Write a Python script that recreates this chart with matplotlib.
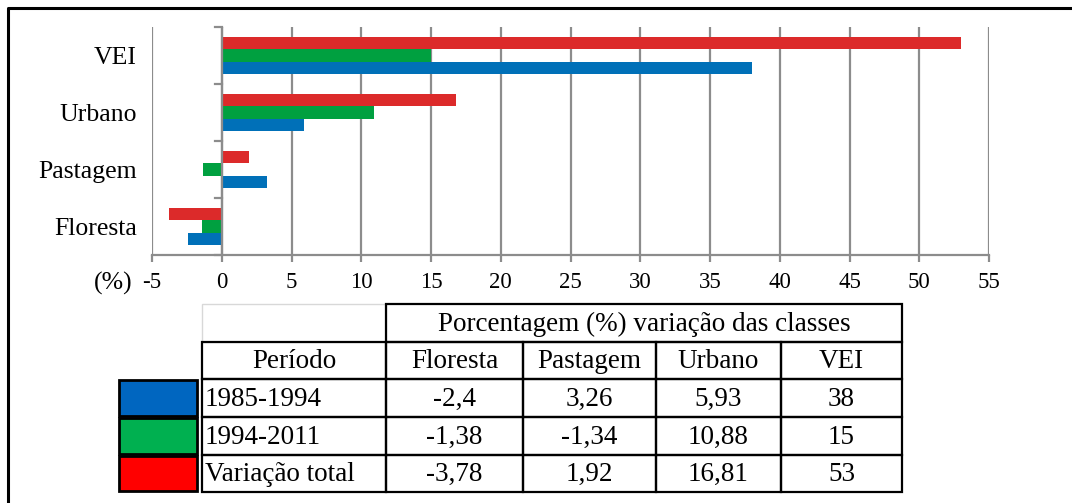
import matplotlib
matplotlib.use("Agg")
import matplotlib.pyplot as plt
import numpy as np
from matplotlib.patches import Rectangle

plt.rcParams["font.family"] = ["Liberation Serif", "DejaVu Serif"]

# --- data ---
categories = ["Floresta", "Pastagem", "Urbano", "VEI"]
periods = ["1985-1994", "1994-2011", "Variação total"]
v_1985_1994 = [-2.4, 3.26, 5.93, 38]
v_1994_2011 = [-1.38, -1.34, 10.88, 15]
v_total = [-3.78, 1.92, 16.81, 53]
series = [v_1985_1994, v_1994_2011, v_total]

bar_colors = ["#0070B8", "#00A040", "#DC2A2A"]
box_colors = ["#0066C0", "#00B050", "#FF0000"]
xticks = list(range(-5, 56, 5))

W, H = 1072, 503
fig = plt.figure(figsize=(W / 100, H / 100), dpi=100)

# chart area in pixel coords
x0, x1, y0, y1 = 152, 989, 27, 255
ax = fig.add_axes([x0 / W, 1 - y1 / H, (x1 - x0) / W, (y1 - y0) / H])

grey = "#8C8C8C"
y = np.arange(len(categories))
h = 0.22
for i, vals in enumerate(series):
    ax.barh(y + (i - 1) * h, vals, height=h, color=bar_colors[i], zorder=3)

ax.set_xlim(-5, 55)
ax.set_ylim(-0.5, len(categories) - 0.5)
ax.set_xticks(xticks)
ax.set_xticklabels([str(t) for t in xticks], fontsize=16.5)
for t in xticks:
    ax.axvline(t, color=grey, lw=1.6, zorder=1)
ax.axvline(0, color=grey, lw=1.6, zorder=4)

ax.set_yticks(y)
ax.set_yticklabels(categories, fontsize=18.5)
ax.tick_params(axis="y", length=0, pad=11)
ax.tick_params(axis="x", length=5, width=1.6, color=grey, pad=7)
for s in ["top", "right", "left"]:
    ax.spines[s].set_visible(False)
ax.spines["bottom"].set_color(grey)
ax.spines["bottom"].set_linewidth(1.6)

# small ticks on the zero line at category boundaries
for b in np.arange(-0.5, len(categories), 1.0):
    ax.plot([-0.5, 0], [b, b], color=grey, lw=1.6, clip_on=False, zorder=4)

# overlay axes in pixel coords for frame and table
ov = fig.add_axes([0, 0, 1, 1])
ov.set_xlim(0, W)
ov.set_ylim(H, 0)
ov.axis("off")
ov.patch.set_alpha(0)

ov.plot([8, 8, W], [H, 8, 8], color="black", lw=2.2)
ov.text(113, 283, "(%)", fontsize=18.5, ha="center", va="center")

# table
col_edges = [202, 386, 523, 656, 781, 902]
row_edges = [304, 342, 379, 417, 455, 492]
tfs = 19.5
lw = 1.6

# top-left empty cell (light border)
ov.add_patch(Rectangle((col_edges[0], row_edges[0]), col_edges[1] - col_edges[0],
                       row_edges[1] - row_edges[0], fill=False, ec="#D8D8D8", lw=1))
# header spanning cell
ov.add_patch(Rectangle((col_edges[1], row_edges[0]), col_edges[-1] - col_edges[1],
                       row_edges[1] - row_edges[0], fill=False, ec="black", lw=lw))
ov.text((col_edges[1] + col_edges[-1]) / 2, (row_edges[0] + row_edges[1]) / 2 + 1,
        "Porcentagem (%) variação das classes", fontsize=tfs, ha="center", va="center")

header = ["Período"] + categories
for r in range(1, 5):
    for c in range(5):
        ov.add_patch(Rectangle((col_edges[c], row_edges[r]), col_edges[c + 1] - col_edges[c],
                               row_edges[r + 1] - row_edges[r], fill=False, ec="black", lw=lw))
cy = lambda r: (row_edges[r] + row_edges[r + 1]) / 2 + 1
for c, txt in enumerate(header):
    ov.text((col_edges[c] + col_edges[c + 1]) / 2, cy(1), txt, fontsize=tfs,
            ha="center", va="center")

for i, (p, vals) in enumerate(zip(periods, series)):
    r = i + 2
    ov.text(col_edges[0] + 3, cy(r), p, fontsize=tfs, ha="left", va="center")
    for c, v in enumerate(vals):
        ov.text((col_edges[c + 1] + col_edges[c + 2]) / 2, cy(r),
                f"{v:g}".replace(".", ","), fontsize=tfs, ha="center", va="center")
    # legend color box
    ov.add_patch(Rectangle((119, row_edges[r] + 1), 78, row_edges[r + 1] - row_edges[r] - 2,
                           fc=box_colors[i], ec="black", lw=2))

fig.savefig("out.png", dpi=100)
